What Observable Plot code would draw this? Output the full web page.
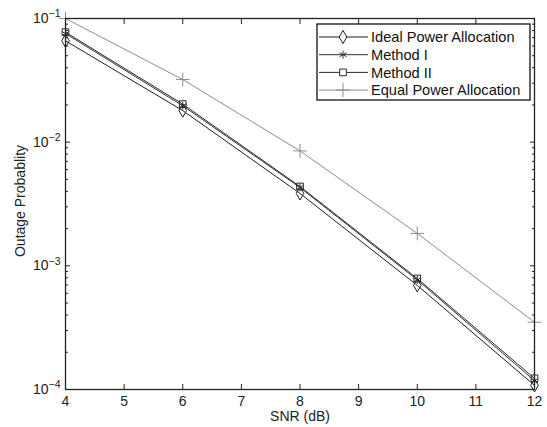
<!DOCTYPE html>
<html><head><meta charset="utf-8">
<script src="https://cdn.jsdelivr.net/npm/d3@7"></script>
<script src="https://cdn.jsdelivr.net/npm/@observablehq/plot@0.6"></script>
<style>body{margin:0;background:#fff} svg{display:block} #chart{width:547px;height:427px}</style>
</head><body><div id="chart"></div>
<script>
// ---- data ----
const snr = [4, 6, 8, 10, 12];
const idealPA  = [0.066, 0.0180, 0.00385, 0.000695, 0.000108];
const method1  = [0.0755, 0.0197, 0.00430, 0.000770, 0.000118];
const method2  = [0.0775, 0.0203, 0.00438, 0.000790, 0.000123];
const equalPA  = [0.100, 0.0321, 0.00850, 0.00183, 0.000350];
const seriesNames = ["Ideal Power Allocation", "Method I", "Method II", "Equal Power Allocation"];
const seriesValues = [idealPA, method1, method2, equalPA];
const xTicks = [4, 5, 6, 7, 8, 9, 10, 11, 12];
const yMajorTicks = [1e-4, 1e-3, 1e-2, 1e-1];
const yMinorMultipliers = [2, 3, 4, 5, 6, 7, 8, 9];
const xLabel = "SNR (dB)";
const yLabel = "Outage Probablity";

// ---- styles ----
const seriesStyle = {
  "Ideal Power Allocation": {stroke: "#1e1e1e", symbol: "diamond", r: 4},
  "Method I": {stroke: "#333333", symbol: "asterisk", r: 3.8},
  "Method II": {stroke: "#2a2a2a", symbol: "square", r: 3.8},
  "Equal Power Allocation": {stroke: "#8c8c8c", symbol: "plus", r: 4.5}
};

const yMinorTicks = [];
for (const d of yMajorTicks.slice(0, -1)) for (const m of yMinorMultipliers) yMinorTicks.push(d * m);

const rows = [];
seriesNames.forEach((name, i) => seriesValues[i].forEach((v, j) => rows.push({series: name, snr: snr[j], p: v})));

const marks = [];
for (const name of seriesNames) {
  const st = seriesStyle[name];
  const data = rows.filter(d => d.series === name);
  marks.push(Plot.line(data, {x: "snr", y: "p", stroke: st.stroke, strokeWidth: 1}));
  marks.push(Plot.dot(data, {x: "snr", y: "p", symbol: st.symbol, r: st.r, stroke: st.stroke, fill: "none", strokeWidth: 1}));
}

const blank = () => "";
const chart = Plot.plot({
  width: 547, height: 427,
  marginLeft: 65, marginRight: 13, marginTop: 18, marginBottom: 38,
  style: {fontFamily: "'Liberation Sans', Arial, Helvetica, sans-serif", fontSize: "14px", color: "#222", background: "#fff"},
  x: {domain: [4, 12]},
  y: {type: "log", domain: [1e-4, 1e-1]},
  marks: [
    ...marks,
    Plot.axisX({anchor: "bottom", ticks: xTicks, tickSize: -5, tickPadding: 12, label: null, stroke: "#222"}),
    Plot.axisX({anchor: "top", ticks: xTicks, tickSize: -5, tickFormat: blank, label: null, stroke: "#222"}),
    Plot.axisY({anchor: "left", ticks: yMajorTicks, tickSize: -5, tickPadding: 10, label: null, stroke: "#222",
      tickFormat: d => "10^" + Math.round(Math.log10(d))}),
    Plot.axisY({anchor: "left", ticks: yMinorTicks, tickSize: -3, tickFormat: blank, label: null, stroke: "#222"}),
    Plot.axisY({anchor: "right", ticks: yMajorTicks, tickSize: -5, tickFormat: blank, label: null, stroke: "#222"}),
    Plot.axisY({anchor: "right", ticks: yMinorTicks, tickSize: -3, tickFormat: blank, label: null, stroke: "#222"}),
    Plot.frame({stroke: "#222", strokeWidth: 1.3}),
    Plot.text([xLabel], {frameAnchor: "bottom", dy: 31.5, fill: "#222", fontSize: 14}),
    Plot.text([yLabel], {frameAnchor: "left", textAnchor: "middle", dx: -45, dy: -3, rotate: -90, fill: "#222", fontSize: 14})
  ]
});
document.getElementById("chart").appendChild(chart);

// superscript exponents on the y tick labels
d3.select(chart).selectAll('g[aria-label="y-axis tick label"] text').each(function () {
  const t = d3.select(this);
  const s = t.text();
  if (!s.includes("^")) return;
  const [base, exp] = s.split("^");
  t.text(null);
  t.append("tspan").text(base);
  t.append("tspan").attr("dy", "-0.55em").attr("font-size", "10.5px").text(exp.replace("-", "\u2212"));
});

// legend box
const lg = d3.select(chart).append("g")
  .attr("font-family", "'Liberation Sans', Arial, Helvetica, sans-serif")
  .attr("font-size", 14.6).attr("text-anchor", "start");
lg.append("rect").attr("x", 317).attr("y", 24).attr("width", 213).attr("height", 76)
  .attr("fill", "#fff").attr("stroke", "#111").attr("stroke-width", 1.3);
const symMap = {diamond: d3.symbolDiamond, asterisk: d3.symbolAsterisk, square: d3.symbolSquare, plus: d3.symbolPlus};
seriesNames.forEach((name, i) => {
  const st = seriesStyle[name];
  const y = 37 + i * 17.7;
  lg.append("line").attr("x1", 319).attr("x2", 368).attr("y1", y).attr("y2", y).attr("stroke", st.stroke).attr("stroke-width", 1);
  lg.append("path").attr("transform", `translate(343,${y})`)
    .attr("d", d3.symbol(symMap[st.symbol], Math.PI * st.r * st.r)())
    .attr("fill", st.symbol === "diamond" || st.symbol === "square" ? "#fff" : "none").attr("stroke", st.stroke);
  lg.append("text").attr("x", 371).attr("y", y).attr("dy", "0.35em").attr("fill", "#111").text(name);
});
</script>
</body></html>
